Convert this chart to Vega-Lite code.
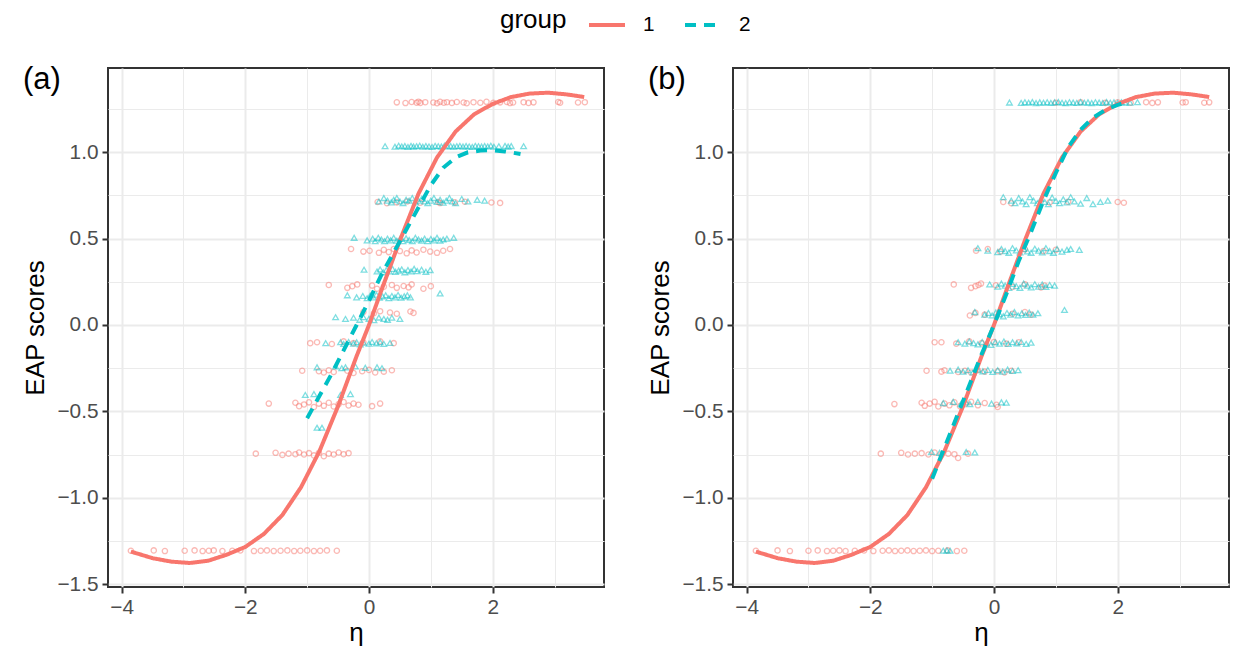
{
"$schema": "https://vega.github.io/schema/vega-lite/v6.json",
"padding": {"left": 21, "top": 5, "right": 5, "bottom": 5},
"datasets": {
"pa": [
{"g":"1","x":0.45,"y":1.289},{"g":"1","x":0.59,"y":1.285},{"g":"1","x":0.69,"y":1.291},{"g":"1","x":0.77,"y":1.287},{"g":"1","x":0.80,"y":1.293},{"g":"1","x":0.83,"y":1.286},{"g":"1","x":0.91,"y":1.290},{"g":"1","x":1.04,"y":1.288},{"g":"1","x":1.10,"y":1.284},{"g":"1","x":1.15,"y":1.292},{"g":"1","x":1.21,"y":1.287},{"g":"1","x":1.26,"y":1.290},{"g":"1","x":1.34,"y":1.286},{"g":"1","x":1.42,"y":1.291},{"g":"1","x":1.53,"y":1.288},{"g":"1","x":1.58,"y":1.284},{"g":"1","x":1.69,"y":1.290},{"g":"1","x":1.80,"y":1.287},{"g":"1","x":1.90,"y":1.292},{"g":"1","x":2.01,"y":1.286},{"g":"1","x":2.12,"y":1.289},{"g":"1","x":2.23,"y":1.291},{"g":"1","x":2.28,"y":1.285},{"g":"1","x":2.33,"y":1.288},{"g":"1","x":2.50,"y":1.290},{"g":"1","x":2.58,"y":1.286},{"g":"1","x":2.66,"y":1.289},{"g":"1","x":3.06,"y":1.291},{"g":"1","x":3.09,"y":1.287},{"g":"1","x":3.38,"y":1.288},{"g":"1","x":3.49,"y":1.290},
{"g":"1","x":0.14,"y":0.712},{"g":"1","x":0.29,"y":0.705},{"g":"1","x":0.45,"y":0.71},{"g":"1","x":0.62,"y":0.715},{"g":"1","x":0.83,"y":0.708},{"g":"1","x":1.12,"y":0.712},{"g":"1","x":1.15,"y":0.706},{"g":"1","x":1.39,"y":0.71},{"g":"1","x":1.55,"y":0.714},{"g":"1","x":1.98,"y":0.709},{"g":"1","x":2.12,"y":0.707},
{"g":"1","x":-0.29,"y":0.44},{"g":"1","x":-0.09,"y":0.425},{"g":"1","x":0.01,"y":0.43},{"g":"1","x":0.16,"y":0.418},{"g":"1","x":0.24,"y":0.435},{"g":"1","x":0.32,"y":0.422},{"g":"1","x":0.40,"y":0.44},{"g":"1","x":0.50,"y":0.428},{"g":"1","x":0.61,"y":0.415},{"g":"1","x":0.69,"y":0.432},{"g":"1","x":0.77,"y":0.42},{"g":"1","x":0.88,"y":0.436},{"g":"1","x":0.99,"y":0.425},{"g":"1","x":1.10,"y":0.418},{"g":"1","x":1.20,"y":0.43},{"g":"1","x":1.31,"y":0.44},
{"g":"1","x":-0.65,"y":0.232},{"g":"1","x":-0.35,"y":0.215},{"g":"1","x":-0.27,"y":0.225},{"g":"1","x":-0.19,"y":0.235},{"g":"1","x":0.05,"y":0.228},{"g":"1","x":0.13,"y":0.21},{"g":"1","x":0.24,"y":0.222},{"g":"1","x":0.37,"y":0.232},{"g":"1","x":0.45,"y":0.215},{"g":"1","x":0.56,"y":0.226},{"g":"1","x":0.64,"y":0.218},{"g":"1","x":0.69,"y":0.235},{"g":"1","x":0.88,"y":0.21},{"g":"1","x":1.0,"y":0.225},
{"g":"1","x":-0.09,"y":0.075},{"g":"1","x":0.08,"y":0.068},{"g":"1","x":0.18,"y":0.08},{"g":"1","x":0.34,"y":0.072},{"g":"1","x":0.45,"y":0.065},{"g":"1","x":0.67,"y":0.078},{"g":"1","x":0.72,"y":0.07},
{"g":"1","x":-0.95,"y":-0.105},{"g":"1","x":-0.84,"y":-0.1},{"g":"1","x":-0.6,"y":-0.11},{"g":"1","x":-0.41,"y":-0.095},{"g":"1","x":-0.25,"y":-0.105},{"g":"1","x":-0.09,"y":-0.1},{"g":"1","x":0.18,"y":-0.095},{"g":"1","x":0.40,"y":-0.105},
{"g":"1","x":-1.08,"y":-0.265},{"g":"1","x":-0.81,"y":-0.268},{"g":"1","x":-0.73,"y":-0.275},{"g":"1","x":-0.65,"y":-0.262},{"g":"1","x":-0.57,"y":-0.272},{"g":"1","x":-0.35,"y":-0.265},{"g":"1","x":-0.25,"y":-0.278},{"g":"1","x":-0.11,"y":-0.268},{"g":"1","x":0.0,"y":-0.26},{"g":"1","x":0.10,"y":-0.275},{"g":"1","x":0.24,"y":-0.27},{"g":"1","x":0.37,"y":-0.262},
{"g":"1","x":-1.62,"y":-0.455},{"g":"1","x":-1.19,"y":-0.45},{"g":"1","x":-1.13,"y":-0.47},{"g":"1","x":-1.05,"y":-0.46},{"g":"1","x":-0.97,"y":-0.448},{"g":"1","x":-0.89,"y":-0.475},{"g":"1","x":-0.81,"y":-0.455},{"g":"1","x":-0.73,"y":-0.468},{"g":"1","x":-0.65,"y":-0.45},{"g":"1","x":-0.57,"y":-0.472},{"g":"1","x":-0.49,"y":-0.458},{"g":"1","x":-0.41,"y":-0.446},{"g":"1","x":-0.33,"y":-0.466},{"g":"1","x":-0.25,"y":-0.455},{"g":"1","x":-0.17,"y":-0.462},{"g":"1","x":0.05,"y":-0.47},{"g":"1","x":0.18,"y":-0.455},
{"g":"1","x":-1.83,"y":-0.745},{"g":"1","x":-1.51,"y":-0.74},{"g":"1","x":-1.40,"y":-0.752},{"g":"1","x":-1.30,"y":-0.745},{"g":"1","x":-1.19,"y":-0.748},{"g":"1","x":-1.13,"y":-0.738},{"g":"1","x":-1.05,"y":-0.75},{"g":"1","x":-0.97,"y":-0.742},{"g":"1","x":-0.89,"y":-0.755},{"g":"1","x":-0.81,"y":-0.74},{"g":"1","x":-0.73,"y":-0.76},{"g":"1","x":-0.65,"y":-0.745},{"g":"1","x":-0.57,"y":-0.75},{"g":"1","x":-0.49,"y":-0.738},{"g":"1","x":-0.41,"y":-0.748},{"g":"1","x":-0.33,"y":-0.742},
{"g":"1","x":-3.85,"y":-1.307},{"g":"1","x":-3.48,"y":-1.305},{"g":"1","x":-3.30,"y":-1.309},{"g":"1","x":-2.98,"y":-1.307},{"g":"1","x":-2.82,"y":-1.305},{"g":"1","x":-2.69,"y":-1.309},{"g":"1","x":-2.59,"y":-1.307},{"g":"1","x":-2.51,"y":-1.305},{"g":"1","x":-2.37,"y":-1.309},{"g":"1","x":-2.21,"y":-1.307},{"g":"1","x":-2.08,"y":-1.305},{"g":"1","x":-1.86,"y":-1.309},{"g":"1","x":-1.75,"y":-1.307},{"g":"1","x":-1.65,"y":-1.305},{"g":"1","x":-1.54,"y":-1.309},{"g":"1","x":-1.43,"y":-1.307},{"g":"1","x":-1.32,"y":-1.305},{"g":"1","x":-1.21,"y":-1.309},{"g":"1","x":-1.11,"y":-1.307},{"g":"1","x":-1.0,"y":-1.305},{"g":"1","x":-0.89,"y":-1.309},{"g":"1","x":-0.79,"y":-1.307},{"g":"1","x":-0.68,"y":-1.305},{"g":"1","x":-0.52,"y":-1.307},
{"g":"2","x":0.26,"y":1.035},{"g":"2","x":0.42,"y":1.032},{"g":"2","x":0.48,"y":1.038},{"g":"2","x":0.53,"y":1.034},{"g":"2","x":0.58,"y":1.036},{"g":"2","x":0.63,"y":1.031},{"g":"2","x":0.68,"y":1.037},{"g":"2","x":0.72,"y":1.033},{"g":"2","x":0.77,"y":1.035},{"g":"2","x":0.82,"y":1.038},{"g":"2","x":0.87,"y":1.032},{"g":"2","x":0.92,"y":1.036},{"g":"2","x":0.97,"y":1.034},{"g":"2","x":1.02,"y":1.031},{"g":"2","x":1.07,"y":1.037},{"g":"2","x":1.12,"y":1.035},{"g":"2","x":1.17,"y":1.033},{"g":"2","x":1.22,"y":1.038},{"g":"2","x":1.27,"y":1.034},{"g":"2","x":1.32,"y":1.036},{"g":"2","x":1.37,"y":1.032},{"g":"2","x":1.42,"y":1.035},{"g":"2","x":1.47,"y":1.037},{"g":"2","x":1.52,"y":1.033},{"g":"2","x":1.57,"y":1.036},{"g":"2","x":1.62,"y":1.034},{"g":"2","x":1.67,"y":1.031},{"g":"2","x":1.72,"y":1.037},{"g":"2","x":1.77,"y":1.035},{"g":"2","x":1.82,"y":1.033},{"g":"2","x":1.87,"y":1.036},{"g":"2","x":1.92,"y":1.034},{"g":"2","x":1.97,"y":1.038},{"g":"2","x":2.02,"y":1.032},{"g":"2","x":2.1,"y":1.035},{"g":"2","x":2.2,"y":1.037},{"g":"2","x":2.25,"y":1.033},{"g":"2","x":2.3,"y":1.036},{"g":"2","x":2.5,"y":1.035},
{"g":"2","x":0.16,"y":0.715},{"g":"2","x":0.24,"y":0.735},{"g":"2","x":0.3,"y":0.72},{"g":"2","x":0.36,"y":0.71},{"g":"2","x":0.4,"y":0.725},{"g":"2","x":0.45,"y":0.735},{"g":"2","x":0.5,"y":0.715},{"g":"2","x":0.55,"y":0.705},{"g":"2","x":0.6,"y":0.725},{"g":"2","x":0.65,"y":0.72},{"g":"2","x":0.7,"y":0.735},{"g":"2","x":0.75,"y":0.71},{"g":"2","x":0.8,"y":0.72},{"g":"2","x":0.85,"y":0.73},{"g":"2","x":0.9,"y":0.715},{"g":"2","x":0.95,"y":0.705},{"g":"2","x":1.0,"y":0.72},{"g":"2","x":1.05,"y":0.735},{"g":"2","x":1.1,"y":0.712},{"g":"2","x":1.15,"y":0.725},{"g":"2","x":1.2,"y":0.708},{"g":"2","x":1.25,"y":0.72},{"g":"2","x":1.3,"y":0.735},{"g":"2","x":1.35,"y":0.715},{"g":"2","x":1.4,"y":0.705},{"g":"2","x":1.5,"y":0.73},{"g":"2","x":1.6,"y":0.715},{"g":"2","x":1.75,"y":0.725},{"g":"2","x":1.87,"y":0.72},
{"g":"2","x":-0.24,"y":0.505},{"g":"2","x":-0.03,"y":0.49},{"g":"2","x":0.06,"y":0.5},{"g":"2","x":0.1,"y":0.485},{"g":"2","x":0.15,"y":0.505},{"g":"2","x":0.2,"y":0.495},{"g":"2","x":0.25,"y":0.485},{"g":"2","x":0.3,"y":0.5},{"g":"2","x":0.35,"y":0.49},{"g":"2","x":0.4,"y":0.505},{"g":"2","x":0.45,"y":0.488},{"g":"2","x":0.5,"y":0.498},{"g":"2","x":0.55,"y":0.485},{"g":"2","x":0.6,"y":0.502},{"g":"2","x":0.65,"y":0.492},{"g":"2","x":0.7,"y":0.485},{"g":"2","x":0.75,"y":0.505},{"g":"2","x":0.8,"y":0.495},{"g":"2","x":0.85,"y":0.488},{"g":"2","x":0.9,"y":0.5},{"g":"2","x":0.95,"y":0.485},{"g":"2","x":1.0,"y":0.498},{"g":"2","x":1.05,"y":0.49},{"g":"2","x":1.1,"y":0.505},{"g":"2","x":1.15,"y":0.488},{"g":"2","x":1.2,"y":0.495},{"g":"2","x":1.26,"y":0.5},{"g":"2","x":1.37,"y":0.505},
{"g":"2","x":-0.08,"y":0.32},{"g":"2","x":0.13,"y":0.31},{"g":"2","x":0.18,"y":0.322},{"g":"2","x":0.23,"y":0.305},{"g":"2","x":0.28,"y":0.318},{"g":"2","x":0.33,"y":0.31},{"g":"2","x":0.38,"y":0.325},{"g":"2","x":0.43,"y":0.308},{"g":"2","x":0.48,"y":0.315},{"g":"2","x":0.53,"y":0.322},{"g":"2","x":0.58,"y":0.305},{"g":"2","x":0.63,"y":0.318},{"g":"2","x":0.68,"y":0.31},{"g":"2","x":0.73,"y":0.325},{"g":"2","x":0.78,"y":0.312},{"g":"2","x":0.85,"y":0.32},{"g":"2","x":0.92,"y":0.308},{"g":"2","x":0.99,"y":0.318},
{"g":"2","x":-0.35,"y":0.172},{"g":"2","x":-0.2,"y":0.16},{"g":"2","x":-0.1,"y":0.168},{"g":"2","x":-0.03,"y":0.155},{"g":"2","x":0.02,"y":0.17},{"g":"2","x":0.07,"y":0.16},{"g":"2","x":0.12,"y":0.175},{"g":"2","x":0.17,"y":0.158},{"g":"2","x":0.22,"y":0.165},{"g":"2","x":0.27,"y":0.172},{"g":"2","x":0.32,"y":0.155},{"g":"2","x":0.37,"y":0.168},{"g":"2","x":0.42,"y":0.16},{"g":"2","x":0.47,"y":0.174},{"g":"2","x":0.52,"y":0.158},{"g":"2","x":0.57,"y":0.166},{"g":"2","x":0.62,"y":0.172},{"g":"2","x":0.67,"y":0.16},{"g":"2","x":1.15,"y":0.183},
{"g":"2","x":-0.54,"y":0.045},{"g":"2","x":-0.38,"y":0.035},{"g":"2","x":-0.25,"y":0.042},{"g":"2","x":-0.15,"y":0.03},{"g":"2","x":-0.09,"y":0.045},{"g":"2","x":0.0,"y":0.036},{"g":"2","x":0.08,"y":0.028},{"g":"2","x":0.16,"y":0.043},{"g":"2","x":0.24,"y":0.035},{"g":"2","x":0.30,"y":0.03},{"g":"2","x":0.37,"y":0.042},{"g":"2","x":0.5,"y":0.035},
{"g":"2","x":-0.70,"y":-0.105},{"g":"2","x":-0.46,"y":-0.1},{"g":"2","x":-0.41,"y":-0.11},{"g":"2","x":-0.33,"y":-0.098},{"g":"2","x":-0.25,"y":-0.108},{"g":"2","x":-0.2,"y":-0.1},{"g":"2","x":-0.14,"y":-0.112},{"g":"2","x":-0.09,"y":-0.102},{"g":"2","x":0.0,"y":-0.108},{"g":"2","x":0.05,"y":-0.098},{"g":"2","x":0.12,"y":-0.106},{"g":"2","x":0.18,"y":-0.1},{"g":"2","x":0.24,"y":-0.11},{"g":"2","x":0.34,"y":-0.104},
{"g":"2","x":-0.84,"y":-0.245},{"g":"2","x":-0.54,"y":-0.24},{"g":"2","x":-0.44,"y":-0.25},{"g":"2","x":-0.38,"y":-0.245},{"g":"2","x":-0.22,"y":-0.24},{"g":"2","x":-0.06,"y":-0.248},{"g":"2","x":0.13,"y":-0.245},{"g":"2","x":0.21,"y":-0.25},
{"g":"2","x":-1.03,"y":-0.405},{"g":"2","x":-0.89,"y":-0.4},{"g":"2","x":-0.46,"y":-0.405},{"g":"2","x":-0.30,"y":-0.4},
{"g":"2","x":-0.84,"y":-0.595},{"g":"2","x":-0.76,"y":-0.595}
],
"pb": [
{"g":"1","x":1.0,"y":1.287},{"g":"1","x":1.4,"y":1.29},{"g":"1","x":1.8,"y":1.286},{"g":"1","x":2.0,"y":1.289},{"g":"1","x":2.21,"y":1.287},{"g":"1","x":2.46,"y":1.29},{"g":"1","x":2.56,"y":1.286},{"g":"1","x":2.65,"y":1.289},{"g":"1","x":3.05,"y":1.288},{"g":"1","x":3.10,"y":1.29},{"g":"1","x":3.40,"y":1.287},{"g":"1","x":3.48,"y":1.289},
{"g":"1","x":0.15,"y":0.712},{"g":"1","x":0.28,"y":0.705},{"g":"1","x":0.9,"y":0.71},{"g":"1","x":1.2,"y":0.714},{"g":"1","x":2.0,"y":0.712},{"g":"1","x":2.10,"y":0.708},
{"g":"1","x":-0.29,"y":0.43},{"g":"1","x":-0.1,"y":0.44},{"g":"1","x":0.1,"y":0.425},{"g":"1","x":0.5,"y":0.438},{"g":"1","x":0.8,"y":0.428},{"g":"1","x":1.0,"y":0.435},
{"g":"1","x":-0.65,"y":0.235},{"g":"1","x":-0.37,"y":0.215},{"g":"1","x":-0.3,"y":0.225},{"g":"1","x":-0.25,"y":0.232},{"g":"1","x":-0.21,"y":0.24},{"g":"1","x":0.03,"y":0.23},{"g":"1","x":0.3,"y":0.22},{"g":"1","x":0.5,"y":0.235},{"g":"1","x":0.76,"y":0.218},{"g":"1","x":0.82,"y":0.228},
{"g":"1","x":-0.39,"y":0.055},{"g":"1","x":-0.3,"y":0.07},{"g":"1","x":-0.15,"y":0.06},{"g":"1","x":0.3,"y":0.065},{"g":"1","x":0.5,"y":0.075},{"g":"1","x":0.6,"y":0.06},
{"g":"1","x":-0.96,"y":-0.1},{"g":"1","x":-0.85,"y":-0.1},{"g":"1","x":-0.61,"y":-0.108},{"g":"1","x":-0.4,"y":-0.095},{"g":"1","x":-0.2,"y":-0.105},{"g":"1","x":0.0,"y":-0.098},{"g":"1","x":0.2,"y":-0.108},{"g":"1","x":0.4,"y":-0.1},
{"g":"1","x":-1.09,"y":-0.265},{"g":"1","x":-0.85,"y":-0.27},{"g":"1","x":-0.80,"y":-0.262},{"g":"1","x":-0.58,"y":-0.272},{"g":"1","x":-0.47,"y":-0.265},{"g":"1","x":-0.37,"y":-0.275},{"g":"1","x":-0.26,"y":-0.262},{"g":"1","x":-0.15,"y":-0.27},{"g":"1","x":0.06,"y":-0.268},{"g":"1","x":0.17,"y":-0.275},{"g":"1","x":0.28,"y":-0.265},
{"g":"1","x":-1.61,"y":-0.458},{"g":"1","x":-1.17,"y":-0.45},{"g":"1","x":-1.12,"y":-0.468},{"g":"1","x":-1.04,"y":-0.455},{"g":"1","x":-0.96,"y":-0.445},{"g":"1","x":-0.90,"y":-0.472},{"g":"1","x":-0.80,"y":-0.455},{"g":"1","x":-0.72,"y":-0.465},{"g":"1","x":-0.64,"y":-0.448},{"g":"1","x":-0.55,"y":-0.47},{"g":"1","x":-0.47,"y":-0.458},{"g":"1","x":-0.37,"y":-0.445},{"g":"1","x":-0.26,"y":-0.465},{"g":"1","x":-0.15,"y":-0.452},{"g":"1","x":0.04,"y":-0.462},{"g":"1","x":0.06,"y":-0.475},
{"g":"1","x":-1.83,"y":-0.745},{"g":"1","x":-1.50,"y":-0.74},{"g":"1","x":-1.39,"y":-0.75},{"g":"1","x":-1.28,"y":-0.745},{"g":"1","x":-1.17,"y":-0.742},{"g":"1","x":-1.06,"y":-0.75},{"g":"1","x":-0.96,"y":-0.738},{"g":"1","x":-0.85,"y":-0.752},{"g":"1","x":-0.74,"y":-0.745},{"g":"1","x":-0.64,"y":-0.748},{"g":"1","x":-0.58,"y":-0.77},{"g":"1","x":-0.42,"y":-0.745},
{"g":"1","x":-3.85,"y":-1.307},{"g":"1","x":-3.5,"y":-1.305},{"g":"1","x":-3.3,"y":-1.309},{"g":"1","x":-3.0,"y":-1.307},{"g":"1","x":-2.85,"y":-1.305},{"g":"1","x":-2.7,"y":-1.309},{"g":"1","x":-2.6,"y":-1.307},{"g":"1","x":-2.5,"y":-1.305},{"g":"1","x":-2.4,"y":-1.309},{"g":"1","x":-2.25,"y":-1.307},{"g":"1","x":-2.1,"y":-1.305},{"g":"1","x":-1.95,"y":-1.309},{"g":"1","x":-1.8,"y":-1.307},{"g":"1","x":-1.7,"y":-1.305},{"g":"1","x":-1.6,"y":-1.309},{"g":"1","x":-1.5,"y":-1.307},{"g":"1","x":-1.4,"y":-1.305},{"g":"1","x":-1.3,"y":-1.309},{"g":"1","x":-1.2,"y":-1.307},{"g":"1","x":-1.1,"y":-1.305},{"g":"1","x":-1.0,"y":-1.309},{"g":"1","x":-0.9,"y":-1.307},{"g":"1","x":-0.75,"y":-1.305},{"g":"1","x":-0.6,"y":-1.309},{"g":"1","x":-0.48,"y":-1.307},
{"g":"2","x":0.25,"y":1.288},{"g":"2","x":0.44,"y":1.286},{"g":"2","x":0.5,"y":1.29},{"g":"2","x":0.56,"y":1.287},{"g":"2","x":0.62,"y":1.291},{"g":"2","x":0.68,"y":1.285},{"g":"2","x":0.74,"y":1.289},{"g":"2","x":0.8,"y":1.287},{"g":"2","x":0.86,"y":1.29},{"g":"2","x":0.92,"y":1.286},{"g":"2","x":0.98,"y":1.289},{"g":"2","x":1.04,"y":1.291},{"g":"2","x":1.1,"y":1.287},{"g":"2","x":1.16,"y":1.285},{"g":"2","x":1.22,"y":1.29},{"g":"2","x":1.28,"y":1.288},{"g":"2","x":1.34,"y":1.286},{"g":"2","x":1.4,"y":1.291},{"g":"2","x":1.46,"y":1.287},{"g":"2","x":1.52,"y":1.289},{"g":"2","x":1.58,"y":1.285},{"g":"2","x":1.64,"y":1.29},{"g":"2","x":1.7,"y":1.288},{"g":"2","x":1.76,"y":1.286},{"g":"2","x":1.82,"y":1.291},{"g":"2","x":1.88,"y":1.287},{"g":"2","x":1.94,"y":1.289},{"g":"2","x":2.0,"y":1.286},{"g":"2","x":2.06,"y":1.29},{"g":"2","x":2.12,"y":1.288},{"g":"2","x":2.2,"y":1.287},{"g":"2","x":2.32,"y":1.29},
{"g":"2","x":0.15,"y":0.74},{"g":"2","x":0.28,"y":0.72},{"g":"2","x":0.34,"y":0.705},{"g":"2","x":0.4,"y":0.735},{"g":"2","x":0.46,"y":0.715},{"g":"2","x":0.52,"y":0.7},{"g":"2","x":0.58,"y":0.74},{"g":"2","x":0.64,"y":0.72},{"g":"2","x":0.7,"y":0.705},{"g":"2","x":0.76,"y":0.73},{"g":"2","x":0.82,"y":0.712},{"g":"2","x":0.88,"y":0.7},{"g":"2","x":0.94,"y":0.738},{"g":"2","x":1.0,"y":0.718},{"g":"2","x":1.06,"y":0.705},{"g":"2","x":1.12,"y":0.728},{"g":"2","x":1.18,"y":0.71},{"g":"2","x":1.24,"y":0.74},{"g":"2","x":1.3,"y":0.715},{"g":"2","x":1.4,"y":0.702},{"g":"2","x":1.5,"y":0.735},{"g":"2","x":1.6,"y":0.7},{"g":"2","x":1.72,"y":0.712},{"g":"2","x":1.84,"y":0.72},
{"g":"2","x":-0.26,"y":0.445},{"g":"2","x":-0.1,"y":0.43},{"g":"2","x":0.06,"y":0.422},{"g":"2","x":0.12,"y":0.44},{"g":"2","x":0.18,"y":0.428},{"g":"2","x":0.24,"y":0.418},{"g":"2","x":0.3,"y":0.445},{"g":"2","x":0.36,"y":0.432},{"g":"2","x":0.42,"y":0.42},{"g":"2","x":0.48,"y":0.44},{"g":"2","x":0.54,"y":0.426},{"g":"2","x":0.6,"y":0.418},{"g":"2","x":0.66,"y":0.442},{"g":"2","x":0.72,"y":0.43},{"g":"2","x":0.78,"y":0.42},{"g":"2","x":0.84,"y":0.445},{"g":"2","x":0.9,"y":0.428},{"g":"2","x":0.96,"y":0.418},{"g":"2","x":1.02,"y":0.44},{"g":"2","x":1.1,"y":0.425},{"g":"2","x":1.18,"y":0.435},{"g":"2","x":1.24,"y":0.44},{"g":"2","x":1.38,"y":0.435},
{"g":"2","x":-0.07,"y":0.235},{"g":"2","x":0.06,"y":0.222},{"g":"2","x":0.12,"y":0.24},{"g":"2","x":0.18,"y":0.228},{"g":"2","x":0.24,"y":0.215},{"g":"2","x":0.3,"y":0.238},{"g":"2","x":0.36,"y":0.225},{"g":"2","x":0.42,"y":0.215},{"g":"2","x":0.48,"y":0.24},{"g":"2","x":0.54,"y":0.228},{"g":"2","x":0.6,"y":0.218},{"g":"2","x":0.66,"y":0.236},{"g":"2","x":0.72,"y":0.222},{"g":"2","x":0.78,"y":0.235},{"g":"2","x":0.84,"y":0.22},{"g":"2","x":0.9,"y":0.232},{"g":"2","x":0.98,"y":0.228},
{"g":"2","x":-0.31,"y":0.075},{"g":"2","x":-0.15,"y":0.06},{"g":"2","x":-0.09,"y":0.07},{"g":"2","x":-0.03,"y":0.055},{"g":"2","x":0.03,"y":0.072},{"g":"2","x":0.09,"y":0.062},{"g":"2","x":0.15,"y":0.05},{"g":"2","x":0.21,"y":0.07},{"g":"2","x":0.27,"y":0.06},{"g":"2","x":0.33,"y":0.075},{"g":"2","x":0.39,"y":0.055},{"g":"2","x":0.45,"y":0.068},{"g":"2","x":0.51,"y":0.058},{"g":"2","x":0.57,"y":0.072},{"g":"2","x":0.63,"y":0.06},{"g":"2","x":0.71,"y":0.068},{"g":"2","x":1.14,"y":0.087},
{"g":"2","x":-0.58,"y":-0.1},{"g":"2","x":-0.47,"y":-0.108},{"g":"2","x":-0.4,"y":-0.095},{"g":"2","x":-0.33,"y":-0.105},{"g":"2","x":-0.26,"y":-0.112},{"g":"2","x":-0.19,"y":-0.098},{"g":"2","x":-0.12,"y":-0.106},{"g":"2","x":-0.05,"y":-0.115},{"g":"2","x":0.02,"y":-0.1},{"g":"2","x":0.09,"y":-0.108},{"g":"2","x":0.16,"y":-0.095},{"g":"2","x":0.23,"y":-0.11},{"g":"2","x":0.3,"y":-0.1},{"g":"2","x":0.37,"y":-0.106},{"g":"2","x":0.44,"y":-0.098},{"g":"2","x":0.52,"y":-0.11},{"g":"2","x":0.6,"y":-0.102},
{"g":"2","x":-0.71,"y":-0.265},{"g":"2","x":-0.58,"y":-0.258},{"g":"2","x":-0.5,"y":-0.27},{"g":"2","x":-0.42,"y":-0.262},{"g":"2","x":-0.34,"y":-0.275},{"g":"2","x":-0.26,"y":-0.258},{"g":"2","x":-0.18,"y":-0.268},{"g":"2","x":-0.1,"y":-0.26},{"g":"2","x":-0.02,"y":-0.272},{"g":"2","x":0.06,"y":-0.262},{"g":"2","x":0.14,"y":-0.27},{"g":"2","x":0.22,"y":-0.258},{"g":"2","x":0.3,"y":-0.266},{"g":"2","x":0.39,"y":-0.262},
{"g":"2","x":-0.82,"y":-0.452},{"g":"2","x":-0.66,"y":-0.445},{"g":"2","x":-0.53,"y":-0.455},{"g":"2","x":-0.45,"y":-0.448},{"g":"2","x":-0.39,"y":-0.458},{"g":"2","x":-0.26,"y":-0.445},{"g":"2","x":-0.04,"y":-0.455},{"g":"2","x":0.12,"y":-0.448},{"g":"2","x":0.2,"y":-0.45},
{"g":"2","x":-1.01,"y":-0.735},{"g":"2","x":-0.88,"y":-0.74},{"g":"2","x":-0.45,"y":-0.735},{"g":"2","x":-0.31,"y":-0.738},
{"g":"2","x":-0.82,"y":-1.307},{"g":"2","x":-0.76,"y":-1.305},{"g":"2","x":-0.71,"y":-1.307}
],
"la": [
{"g":"1","x":-3.85,"y":-1.312},{"g":"1","x":-3.5,"y":-1.35},{"g":"1","x":-3.2,"y":-1.37},{"g":"1","x":-2.9,"y":-1.378},{"g":"1","x":-2.6,"y":-1.365},{"g":"1","x":-2.3,"y":-1.33},{"g":"1","x":-2.0,"y":-1.285},{"g":"1","x":-1.7,"y":-1.21},{"g":"1","x":-1.4,"y":-1.10},{"g":"1","x":-1.1,"y":-0.94},{"g":"1","x":-0.8,"y":-0.73},{"g":"1","x":-0.5,"y":-0.47},{"g":"1","x":-0.2,"y":-0.18},{"g":"1","x":0.0,"y":0.0},{"g":"1","x":0.2,"y":0.2},{"g":"1","x":0.5,"y":0.49},{"g":"1","x":0.8,"y":0.76},{"g":"1","x":1.1,"y":0.97},{"g":"1","x":1.4,"y":1.12},{"g":"1","x":1.7,"y":1.22},{"g":"1","x":2.0,"y":1.28},{"g":"1","x":2.3,"y":1.32},{"g":"1","x":2.6,"y":1.34},{"g":"1","x":2.9,"y":1.345},{"g":"1","x":3.2,"y":1.335},{"g":"1","x":3.48,"y":1.32},
{"g":"2","x":-1.0,"y":-0.54},{"g":"2","x":-0.8,"y":-0.41},{"g":"2","x":-0.6,"y":-0.28},{"g":"2","x":-0.4,"y":-0.14},{"g":"2","x":-0.2,"y":0.0},{"g":"2","x":0.0,"y":0.14},{"g":"2","x":0.2,"y":0.29},{"g":"2","x":0.4,"y":0.42},{"g":"2","x":0.6,"y":0.55},{"g":"2","x":0.8,"y":0.68},{"g":"2","x":1.0,"y":0.81},{"g":"2","x":1.2,"y":0.91},{"g":"2","x":1.4,"y":0.97},{"g":"2","x":1.6,"y":1.0},{"g":"2","x":1.8,"y":1.01},{"g":"2","x":2.0,"y":1.012},{"g":"2","x":2.2,"y":1.005},{"g":"2","x":2.45,"y":0.99}
],
"lb": [
{"g":"1","x":-3.85,"y":-1.312},{"g":"1","x":-3.5,"y":-1.35},{"g":"1","x":-3.2,"y":-1.37},{"g":"1","x":-2.9,"y":-1.378},{"g":"1","x":-2.6,"y":-1.365},{"g":"1","x":-2.3,"y":-1.33},{"g":"1","x":-2.0,"y":-1.285},{"g":"1","x":-1.7,"y":-1.21},{"g":"1","x":-1.4,"y":-1.10},{"g":"1","x":-1.1,"y":-0.94},{"g":"1","x":-0.8,"y":-0.73},{"g":"1","x":-0.5,"y":-0.47},{"g":"1","x":-0.2,"y":-0.18},{"g":"1","x":0.0,"y":0.0},{"g":"1","x":0.2,"y":0.2},{"g":"1","x":0.5,"y":0.49},{"g":"1","x":0.8,"y":0.76},{"g":"1","x":1.1,"y":0.97},{"g":"1","x":1.4,"y":1.12},{"g":"1","x":1.7,"y":1.22},{"g":"1","x":2.0,"y":1.28},{"g":"1","x":2.3,"y":1.32},{"g":"1","x":2.6,"y":1.34},{"g":"1","x":2.9,"y":1.345},{"g":"1","x":3.2,"y":1.335},{"g":"1","x":3.48,"y":1.32},
{"g":"2","x":-1.0,"y":-0.89},{"g":"2","x":-0.8,"y":-0.71},{"g":"2","x":-0.6,"y":-0.53},{"g":"2","x":-0.4,"y":-0.35},{"g":"2","x":-0.2,"y":-0.17},{"g":"2","x":0.0,"y":0.0},{"g":"2","x":0.2,"y":0.18},{"g":"2","x":0.4,"y":0.37},{"g":"2","x":0.6,"y":0.54},{"g":"2","x":0.8,"y":0.72},{"g":"2","x":1.0,"y":0.88},{"g":"2","x":1.2,"y":1.03},{"g":"2","x":1.4,"y":1.13},{"g":"2","x":1.6,"y":1.2},{"g":"2","x":1.8,"y":1.245},{"g":"2","x":2.0,"y":1.275},{"g":"2","x":2.15,"y":1.29}
]
},
"spacing": 41,
"resolve": {"scale": {"color": "shared", "strokeDash": "shared"}},
"hconcat": [
{
"title": {"text": "(a)"},
"width": 496, "height": 519,
"layer": [
{"data": {"name": "pa"},
 "transform": [{"filter": "datum.g == '1'"}],
 "mark": {"type": "point", "shape": "circle", "filled": false, "opacity": 0.5, "strokeWidth": 1.3, "size": 28},
 "encoding": {
  "x": {"field": "x", "type": "quantitative", "scale": {"domain": [-4.22, 3.8], "nice": false, "zero": false}, "axis": {"values": [-4, -2, 0, 2], "title": "η", "orient": "bottom", "titlePadding": 3}},
  "y": {"field": "y", "type": "quantitative", "scale": {"domain": [-1.517, 1.488], "nice": false, "zero": false}, "axis": {"values": [-1.5, -1, -0.5, 0, 0.5, 1], "format": ".1f", "title": "EAP scores", "orient": "left"}},
  "color": {"field": "g", "type": "nominal", "title": "group", "scale": {"domain": ["1", "2"], "range": ["#F8766D", "#00BFC4"]}}
 }},
{"data": {"name": "pa"},
 "transform": [{"filter": "datum.g == '2'"}],
 "mark": {"type": "point", "shape": "triangle-up", "filled": false, "opacity": 0.5, "strokeWidth": 1.3, "size": 32},
 "encoding": {
  "x": {"field": "x", "type": "quantitative", "axis": null},
  "y": {"field": "y", "type": "quantitative", "axis": null},
  "color": {"field": "g", "type": "nominal", "title": "group"}
 }},
{"data": {"name": "la"},
 "mark": {"type": "line", "strokeWidth": 4},
 "encoding": {
  "x": {"field": "x", "type": "quantitative", "axis": {"orient": "top", "values": [-3, -1, 1, 3], "labels": false, "ticks": false, "domain": false, "title": null, "grid": true, "gridWidth": 1}},
  "y": {"field": "y", "type": "quantitative", "axis": {"orient": "right", "values": [-1.25, -0.75, -0.25, 0.25, 0.75, 1.25], "labels": false, "ticks": false, "domain": false, "title": null, "grid": true, "gridWidth": 1}},
  "color": {"field": "g", "type": "nominal", "title": "group", "legend": {"orient": "none", "legendX": 392, "legendY": -63, "direction": "horizontal", "titleOrient": "left", "symbolType": "stroke"}},
  "strokeDash": {"field": "g", "type": "nominal", "title": "group", "scale": {"domain": ["1", "2"], "range": [[1, 0], [11, 8]]}, "legend": {"orient": "none", "legendX": 392, "legendY": -63, "direction": "horizontal", "titleOrient": "left", "symbolType": "stroke"}}
 }}
],
"resolve": {"axis": {"x": "independent", "y": "independent"}}
},
{
"title": {"text": "(b)"},
"width": 496, "height": 519,
"layer": [
{"data": {"name": "pb"},
 "transform": [{"filter": "datum.g == '1'"}],
 "mark": {"type": "point", "shape": "circle", "filled": false, "opacity": 0.5, "strokeWidth": 1.3, "size": 28},
 "encoding": {
  "x": {"field": "x", "type": "quantitative", "scale": {"domain": [-4.22, 3.8], "nice": false, "zero": false}, "axis": {"values": [-4, -2, 0, 2], "title": "η", "orient": "bottom", "titlePadding": 3}},
  "y": {"field": "y", "type": "quantitative", "scale": {"domain": [-1.517, 1.488], "nice": false, "zero": false}, "axis": {"values": [-1.5, -1, -0.5, 0, 0.5, 1], "format": ".1f", "title": "EAP scores", "orient": "left"}},
  "color": {"field": "g", "type": "nominal", "title": "group"}
 }},
{"data": {"name": "pb"},
 "transform": [{"filter": "datum.g == '2'"}],
 "mark": {"type": "point", "shape": "triangle-up", "filled": false, "opacity": 0.5, "strokeWidth": 1.3, "size": 32},
 "encoding": {
  "x": {"field": "x", "type": "quantitative", "axis": null},
  "y": {"field": "y", "type": "quantitative", "axis": null},
  "color": {"field": "g", "type": "nominal", "title": "group"}
 }},
{"data": {"name": "lb"},
 "mark": {"type": "line", "strokeWidth": 4},
 "encoding": {
  "x": {"field": "x", "type": "quantitative", "axis": {"orient": "top", "values": [-3, -1, 1, 3], "labels": false, "ticks": false, "domain": false, "title": null, "grid": true, "gridWidth": 1}},
  "y": {"field": "y", "type": "quantitative", "axis": {"orient": "right", "values": [-1.25, -0.75, -0.25, 0.25, 0.75, 1.25], "labels": false, "ticks": false, "domain": false, "title": null, "grid": true, "gridWidth": 1}},
  "color": {"field": "g", "type": "nominal", "title": "group"},
  "strokeDash": {"field": "g", "type": "nominal", "title": "group"}
 }}
],
"resolve": {"axis": {"x": "independent", "y": "independent"}}
}
],
"config": {
 "font": "Liberation Sans",
 "view": {"stroke": "#333333", "strokeWidth": 2},
 "axis": {"domain": false, "grid": true, "gridColor": "#EBEBEB", "gridWidth": 2, "tickColor": "#333333", "tickWidth": 2, "tickSize": 6, "labelColor": "#4D4D4D", "labelFontSize": 20.8, "labelPadding": 4, "titleFontSize": 26, "titleFontWeight": "normal", "titleColor": "#000000", "titlePadding": 8},
 "legend": {"titleFontSize": 26, "titleFontWeight": "normal", "titleColor": "#000000", "titlePadding": 20, "labelFontSize": 20.8, "labelColor": "#000000", "labelOffset": 16, "columnPadding": 22, "symbolSize": 1296, "symbolStrokeWidth": 4, "symbolOpacity": 1},
 "title": {"fontSize": 31, "fontWeight": "normal", "anchor": "start", "frame": "bounds", "orient": "top", "offset": 0, "dy": 32, "color": "#000000"}
}
}
